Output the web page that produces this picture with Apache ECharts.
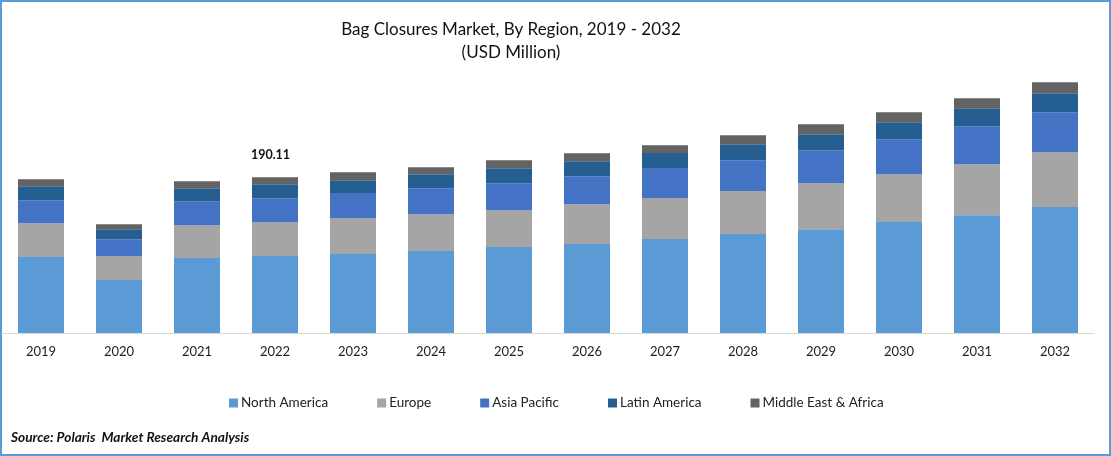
<!DOCTYPE html>
<html>
<head>
<meta charset="utf-8">
<title>Bag Closures Market</title>
<script src="https://cdn.jsdelivr.net/npm/echarts@6/dist/echarts.min.js"></script>
<style>
  html, body { margin: 0; padding: 0; background: #fff; }
  #chart { width: 1111px; height: 456px; }
</style>
</head>
<body>
<div id="chart"></div>
<script>
const years = ['2019', '2020', '2021', '2022', '2023', '2024', '2025', '2026', '2027', '2028', '2029', '2030', '2031', '2032'];
const regions = ['North America', 'Europe', 'Asia Pacific', 'Latin America', 'Middle East & Africa'];
const northAmerica = [92.6, 64.6, 91.4, 93.8, 96.3, 99.9, 104.8, 108.5, 114.6, 120.7, 126.7, 135.3, 143.8, 153.6];
const europe = [41.4, 29.2, 40.2, 41.4, 43.9, 45.1, 45.1, 48.7, 50.0, 52.4, 56.1, 58.5, 62.2, 67.0];
const asiaPacific = [28.0, 20.7, 29.2, 29.2, 30.5, 31.7, 32.9, 34.1, 36.6, 37.8, 40.2, 42.7, 46.3, 48.7];
const latinAmerica = [17.1, 12.2, 15.8, 17.1, 15.8, 17.1, 18.3, 18.3, 18.3, 19.5, 19.5, 20.7, 21.9, 23.2];
const middleEastAfrica = [8.5, 6.1, 8.5, 8.6, 9.7, 8.5, 9.7, 9.7, 9.7, 11.0, 12.2, 12.2, 12.2, 13.4];
const colors = ['#5b9bd5', '#a5a5a5', '#4472c4', '#255e91', '#636363'];
const labelledYear = '2022';
const labelledTotal = '190.11';

const seriesValues = [northAmerica, europe, asiaPacific, latinAmerica, middleEastAfrica];
const fontName = 'Lato';

const myChart = echarts.init(document.getElementById('chart'));

const series = regions.map(function (name, i) {
  const item = {
    name: name,
    type: 'bar',
    stack: 'total',
    barWidth: 46,
    color: colors[i],
    data: seriesValues[i],
  };
  // only one total is printed, above the 2022 bar
  if (i === regions.length - 1) {
    item.data = seriesValues[i].map(function (v, j) {
      if (years[j] !== labelledYear) {
        return v;
      }
      return {
        value: v,
        label: {
          show: true,
          position: 'top',
          offset: [-4.5, -11],
          formatter: labelledTotal,
          fontFamily: fontName,
          fontWeight: 'bold',
          fontSize: 12.5,
          color: '#111',
        },
      };
    });
  }
  return item;
});

const options = {
  animation: false,
  textStyle: { fontFamily: fontName },
  title: [
    {
      text: 'Bag Closures Market, By Region, 2019 - 2032',
      left: 506,
      top: 16,
      textAlign: 'center',
      textStyle: { fontFamily: fontName, fontWeight: 'normal', fontSize: 17, color: '#111' },
    },
    {
      text: '(USD Million)',
      left: 506,
      top: 39,
      textAlign: 'center',
      textStyle: { fontFamily: fontName, fontWeight: 'normal', fontSize: 17, color: '#111' },
    },
    {
      text: 'Source: Polaris  Market Research Analysis',
      left: 6,
      top: 426,
      textStyle: { fontFamily: fontName, fontWeight: 'bold', fontStyle: 'italic', fontSize: 13.7, color: '#111' },
    },
  ],
  grid: { left: 2, top: 33, width: 1092, height: 300 },
  xAxis: {
    type: 'category',
    data: years,
    axisTick: { show: false },
    axisLine: { lineStyle: { color: '#d9d9d9', width: 1 } },
    axisLabel: { color: '#222', fontFamily: fontName, fontSize: 13, margin: 12 },
  },
  yAxis: { type: 'value', min: 0, max: 366, show: false },
  legend: {
    left: 224,
    top: 391,
    icon: 'rect',
    itemWidth: 9,
    itemHeight: 9,
    itemGap: 49,
    textStyle: { color: '#222', fontFamily: fontName, fontSize: 13.5, padding: [0, 0, 0, -2] },
  },
  series: series,
  graphic: [
    {
      type: 'rect',
      silent: true,
      shape: { x: 1, y: 1, width: 1109, height: 454 },
      style: { fill: 'none', stroke: '#5b9bd5', lineWidth: 2 },
    },
  ],
};
myChart.setOption(options);
</script>
</body>
</html>
